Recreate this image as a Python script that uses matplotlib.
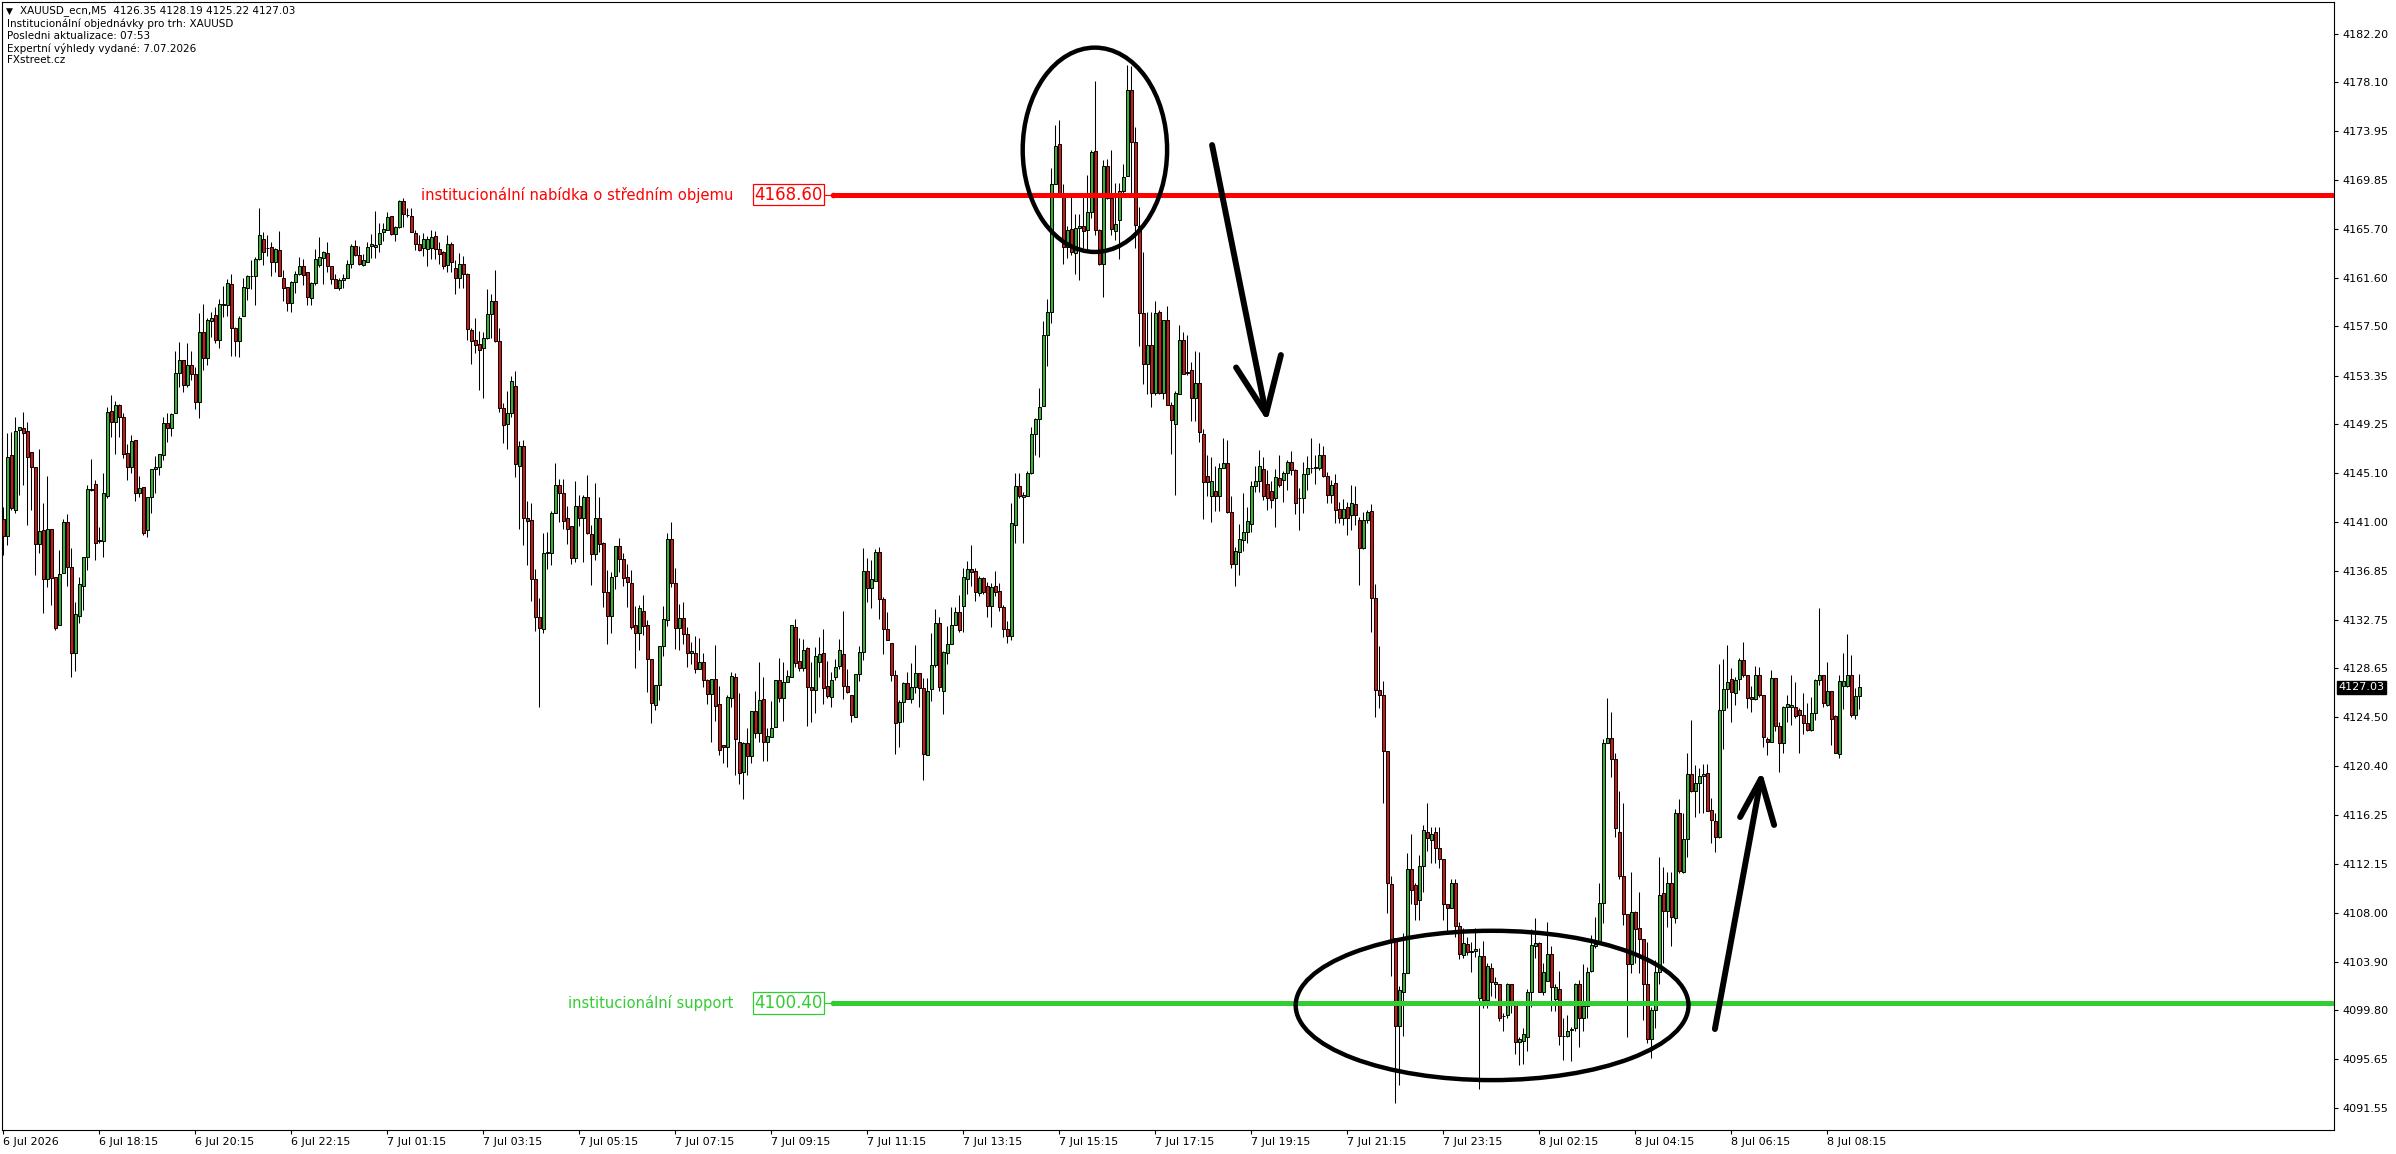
import numpy as np
import matplotlib.pyplot as plt
from matplotlib.patches import Ellipse
import matplotlib.transforms as mtransforms

# [DATA] ======================================================================
# XAUUSD M5 candles (bar 0 = 6 Jul 16:15)
opens = [
    4141.22, 4139.81, 4146.62, 4142.00, 4148.76, 4148.90, 4148.67, 4146.87, 4145.66, 4139.11,
    4140.32, 4136.15, 4140.37, 4136.38, 4132.30, 4136.72, 4140.96, 4137.17, 4129.97, 4133.06,
    4135.62, 4138.01, 4143.69, 4144.17, 4139.40, 4139.42, 4143.21, 4150.36, 4149.43, 4150.84,
    4149.88, 4146.79, 4145.60, 4147.91, 4143.47, 4143.97, 4140.32, 4143.07, 4145.44, 4145.60,
    4146.62, 4149.32, 4148.90, 4150.16, 4153.59, 4154.66, 4152.52, 4154.21, 4153.45, 4151.15,
    4157.00, 4154.86, 4157.98, 4158.43, 4156.35, 4159.39, 4159.30, 4161.05, 4157.33, 4156.29,
    4158.37, 4160.71, 4161.75, 4161.78, 4163.21, 4164.84, 4164.12, 4164.17, 4162.96, 4163.94,
    4161.55, 4160.79, 4159.50, 4161.22, 4161.89, 4162.59, 4162.06, 4159.92, 4161.13, 4162.68,
    4163.24, 4163.65, 4162.63, 4161.51, 4160.70, 4161.38, 4161.54, 4162.80, 4164.26, 4163.51,
    4162.66, 4162.97, 4164.26, 4164.22, 4164.49, 4165.44, 4165.61, 4166.80, 4165.27, 4165.88,
    4168.05, 4166.92, 4166.80, 4165.34, 4164.43, 4164.09, 4164.02, 4164.09, 4165.10, 4164.02,
    4163.75, 4162.66, 4164.43, 4162.46, 4161.54, 4162.73, 4161.88, 4157.21, 4156.36, 4156.02,
    4155.68, 4156.53, 4158.56, 4159.68, 4156.29, 4150.59, 4149.24, 4150.19, 4152.49, 4145.71,
    4147.41, 4141.31, 4141.20, 4136.22, 4132.97, 4131.95, 4138.36, 4138.39, 4141.78, 4144.09,
    4143.41, 4141.37, 4140.63, 4137.98, 4142.32, 4141.31, 4143.14, 4140.02, 4138.32, 4141.37,
    4139.24, 4135.10, 4133.07, 4136.46, 4138.93, 4137.88, 4136.36, 4135.85, 4132.29, 4131.61,
    4133.49, 4132.31, 4129.41, 4125.53, 4127.21, 4130.53, 4132.73, 4139.53, 4135.82, 4132.08,
    4132.87, 4131.52, 4129.91, 4129.91, 4128.62, 4129.15, 4127.64, 4126.45, 4127.72, 4125.61,
    4122.15, 4121.98, 4126.17, 4127.95, 4122.40, 4119.87, 4122.32, 4121.28, 4125.05, 4123.16,
    4126.03, 4122.40, 4122.88, 4123.67, 4127.64, 4126.12, 4127.52, 4127.95, 4132.14, 4129.27,
    4128.65, 4130.34, 4127.05, 4126.82, 4129.15, 4129.91, 4127.13, 4126.20, 4127.89, 4128.85,
    4129.86, 4127.16, 4126.40, 4124.51, 4128.17, 4130.00, 4136.86, 4135.40, 4136.05, 4138.46,
    4134.47, 4131.94, 4130.79, 4128.06, 4124.09, 4125.78, 4127.41, 4126.03, 4127.07, 4128.25,
    4126.96, 4121.31, 4126.88, 4128.90, 4132.45, 4126.74, 4129.91, 4130.67, 4132.28, 4133.37,
    4133.94, 4136.16, 4137.02, 4136.89, 4134.96, 4136.23, 4135.59, 4133.94, 4135.59, 4135.21,
    4133.78, 4132.00, 4131.40, 4140.76, 4144.00, 4143.08, 4143.21, 4145.11, 4148.38, 4149.65,
    4150.76, 4156.73, 4158.70, 4169.49, 4172.89, 4168.54, 4164.16, 4165.69, 4163.69, 4165.84,
    4166.00, 4165.62, 4167.18, 4172.26, 4165.59, 4162.76, 4171.02, 4168.32, 4165.53, 4166.48,
    4168.95, 4170.22, 4177.43, 4173.08, 4166.00, 4158.64, 4154.32, 4155.91, 4151.88, 4158.70,
    4151.88, 4158.00, 4150.86, 4149.24, 4151.78, 4156.32, 4153.60, 4153.78, 4151.46, 4152.73,
    4148.38, 4144.89, 4143.15, 4143.62, 4143.21, 4145.53, 4146.00, 4141.87, 4137.43, 4138.45,
    4139.49, 4140.13, 4140.86, 4144.00, 4144.42, 4145.46, 4144.16, 4143.62, 4142.98, 4144.73,
    4144.55, 4145.10, 4146.02, 4145.36, 4143.00, 4142.98, 4145.03, 4145.54, 4145.60, 4145.54,
    4146.64, 4144.88, 4143.27, 4144.26, 4142.10, 4141.33, 4142.25, 4141.62, 4142.47, 4141.15,
    4138.81, 4141.15, 4141.88, 4134.56, 4126.80, 4126.37, 4121.68, 4110.41, 4105.87, 4098.45,
    4101.37, 4102.95, 4111.73, 4110.34, 4109.06, 4111.99, 4114.80, 4114.18, 4114.80, 4113.45,
    4112.53, 4108.80, 4108.40, 4110.52, 4106.94, 4104.49, 4105.40, 4104.72, 4104.78, 4100.82,
    4104.37, 4100.64, 4103.39, 4101.99, 4102.03, 4099.27, 4099.36, 4101.99, 4100.35, 4097.09,
    4097.24, 4097.53, 4101.30, 4105.22, 4105.51, 4101.37, 4102.29, 4104.56, 4100.75, 4101.56,
    4097.58, 4097.60, 4098.17, 4098.26, 4101.99, 4099.18, 4100.16, 4103.09, 4105.22, 4105.40,
    4108.82, 4122.32, 4122.74, 4120.97, 4114.81, 4111.15, 4107.89, 4103.70, 4108.11, 4106.71,
    4105.81, 4102.01, 4097.34, 4099.82, 4103.05, 4109.66, 4108.20, 4110.50, 4107.55, 4116.41,
    4111.49, 4114.22, 4119.70, 4118.32, 4118.94, 4119.59, 4119.79, 4116.69, 4115.76, 4114.39,
    4125.13, 4126.87, 4127.72, 4126.59, 4127.72, 4129.35, 4128.08, 4126.20, 4126.06, 4128.08,
    4126.40, 4122.66, 4122.46, 4127.80, 4123.78, 4122.32, 4125.36, 4125.36, 4125.41, 4125.13,
    4124.71, 4124.01, 4123.44, 4124.85, 4127.66, 4128.08, 4125.55, 4126.73, 4124.62, 4121.42,
    4127.16, 4127.16, 4128.08, 4124.71, 4126.35,
]
highs = [
    4142.29, 4148.47, 4148.61, 4149.88, 4148.98, 4150.30, 4149.46, 4146.87, 4145.66, 4147.12,
    4142.57, 4144.87, 4140.37, 4136.38, 4138.63, 4141.22, 4141.67, 4138.77, 4134.27, 4136.38,
    4138.01, 4144.11, 4146.28, 4144.54, 4140.60, 4145.10, 4150.72, 4151.71, 4151.20, 4150.95,
    4150.16, 4147.54, 4148.33, 4147.91, 4144.87, 4143.97, 4143.07, 4145.44, 4146.56, 4146.70,
    4149.82, 4150.16, 4150.16, 4155.45, 4156.21, 4154.66, 4156.12, 4155.45, 4154.10, 4158.60,
    4159.36, 4158.18, 4158.68, 4159.16, 4159.78, 4160.91, 4161.52, 4161.89, 4157.47, 4158.37,
    4161.55, 4161.83, 4163.10, 4163.38, 4167.46, 4165.49, 4165.21, 4164.65, 4164.08, 4165.55,
    4162.26, 4160.85, 4161.36, 4162.20, 4163.38, 4163.16, 4162.12, 4161.27, 4164.00, 4165.07,
    4163.82, 4164.60, 4162.63, 4161.88, 4161.58, 4161.88, 4163.14, 4164.49, 4164.77, 4164.26,
    4163.58, 4164.60, 4165.27, 4167.21, 4166.19, 4166.22, 4167.14, 4166.80, 4165.95, 4168.16,
    4168.32, 4167.48, 4167.48, 4165.61, 4165.17, 4165.37, 4165.10, 4165.61, 4165.51, 4164.60,
    4163.82, 4165.17, 4164.60, 4163.07, 4163.65, 4163.41, 4161.99, 4157.37, 4158.22, 4157.14,
    4157.04, 4160.63, 4160.19, 4162.22, 4157.37, 4151.03, 4152.05, 4153.31, 4153.75, 4147.82,
    4147.88, 4142.73, 4142.56, 4137.04, 4134.59, 4140.09, 4140.19, 4141.88, 4145.95, 4144.59,
    4144.59, 4142.32, 4140.63, 4144.43, 4143.31, 4143.24, 4145.00, 4140.70, 4144.26, 4143.07,
    4139.34, 4136.97, 4136.80, 4139.00, 4139.68, 4138.39, 4137.48, 4136.97, 4133.92, 4133.98,
    4134.84, 4132.73, 4129.41, 4127.24, 4130.53, 4133.91, 4140.10, 4140.98, 4137.09, 4134.08,
    4134.25, 4132.11, 4130.87, 4131.38, 4131.21, 4129.94, 4127.75, 4127.72, 4130.62, 4127.16,
    4122.15, 4126.40, 4128.37, 4128.28, 4126.59, 4122.46, 4123.64, 4125.05, 4126.76, 4129.18,
    4127.95, 4123.59, 4125.92, 4127.64, 4129.55, 4129.21, 4128.51, 4132.28, 4132.81, 4131.18,
    4131.10, 4130.48, 4129.21, 4130.42, 4131.32, 4131.97, 4129.27, 4128.37, 4129.44, 4131.12,
    4133.49, 4128.56, 4126.40, 4128.14, 4130.56, 4138.77, 4137.93, 4137.79, 4138.69, 4138.91,
    4134.70, 4133.40, 4130.79, 4128.51, 4125.98, 4127.49, 4128.34, 4129.13, 4130.65, 4128.25,
    4127.83, 4127.83, 4131.63, 4133.66, 4133.01, 4130.14, 4132.25, 4133.85, 4133.85, 4134.84,
    4137.11, 4137.70, 4139.02, 4137.11, 4136.42, 4136.32, 4135.90, 4135.84, 4136.86, 4135.84,
    4134.00, 4132.60, 4142.57, 4145.11, 4145.11, 4143.53, 4145.30, 4149.02, 4149.81, 4152.29,
    4157.99, 4159.78, 4170.83, 4174.51, 4174.89, 4169.49, 4166.00, 4168.38, 4167.02, 4167.02,
    4168.70, 4170.29, 4172.35, 4178.22, 4165.75, 4171.56, 4171.65, 4172.35, 4169.56, 4169.56,
    4171.21, 4179.59, 4179.49, 4174.32, 4167.59, 4163.78, 4158.70, 4158.70, 4159.65, 4158.86,
    4158.07, 4159.18, 4151.08, 4152.04, 4157.59, 4157.02, 4156.80, 4154.51, 4155.46, 4155.37,
    4148.80, 4146.64, 4146.48, 4145.69, 4146.00, 4148.07, 4147.91, 4143.21, 4138.86, 4140.86,
    4143.46, 4142.26, 4144.42, 4145.69, 4147.11, 4146.48, 4145.37, 4144.42, 4145.43, 4146.64,
    4145.28, 4146.20, 4147.00, 4145.47, 4143.82, 4146.02, 4146.56, 4148.10, 4146.64, 4147.66,
    4147.37, 4145.17, 4144.55, 4145.03, 4142.72, 4142.91, 4142.72, 4144.08, 4144.00, 4141.44,
    4141.81, 4141.99, 4142.47, 4135.77, 4130.54, 4127.54, 4121.68, 4111.14, 4105.87, 4101.85,
    4106.31, 4113.08, 4114.66, 4110.52, 4112.90, 4115.39, 4117.29, 4115.28, 4115.28, 4115.28,
    4112.53, 4108.80, 4110.89, 4110.89, 4107.23, 4106.75, 4105.95, 4105.58, 4106.75, 4105.03,
    4105.65, 4103.82, 4103.75, 4102.58, 4102.03, 4099.54, 4102.10, 4101.99, 4100.53, 4097.53,
    4098.26, 4101.56, 4106.61, 4107.60, 4105.58, 4103.75, 4107.23, 4105.22, 4101.99, 4103.09,
    4099.18, 4099.36, 4098.34, 4102.10, 4102.36, 4103.68, 4103.46, 4106.13, 4107.70, 4110.52,
    4122.66, 4126.17, 4124.99, 4121.53, 4118.32, 4117.31, 4107.89, 4111.43, 4108.20, 4109.74,
    4105.81, 4105.58, 4100.10, 4104.03, 4112.75, 4111.91, 4111.49, 4111.49, 4116.75, 4117.59,
    4116.41, 4121.53, 4124.29, 4120.49, 4120.21, 4120.55, 4120.57, 4117.68, 4116.41, 4129.01,
    4129.41, 4130.62, 4128.65, 4127.94, 4129.49, 4130.90, 4128.08, 4127.16, 4128.84, 4128.73,
    4126.40, 4122.88, 4128.51, 4127.80, 4124.15, 4125.47, 4126.40, 4128.08, 4127.52, 4125.27,
    4126.54, 4125.75, 4126.26, 4127.72, 4133.71, 4128.08, 4129.21, 4126.73, 4124.71, 4128.08,
    4129.97, 4131.54, 4129.77, 4126.96, 4128.19,
]
lows = [
    4138.21, 4139.05, 4142.00, 4141.72, 4143.27, 4144.11, 4140.74, 4142.00, 4136.52, 4138.35,
    4133.29, 4135.53, 4133.99, 4131.88, 4132.30, 4136.66, 4135.59, 4127.89, 4128.45, 4132.44,
    4133.57, 4136.94, 4143.60, 4137.78, 4139.19, 4138.07, 4142.99, 4148.19, 4146.73, 4148.19,
    4146.36, 4144.54, 4145.10, 4142.76, 4143.13, 4139.89, 4139.75, 4141.78, 4143.47, 4144.96,
    4146.22, 4147.77, 4148.25, 4150.16, 4152.41, 4151.99, 4152.41, 4152.97, 4150.50, 4149.80,
    4153.82, 4154.24, 4156.63, 4156.12, 4155.70, 4158.32, 4158.37, 4155.00, 4155.00, 4154.94,
    4158.37, 4159.72, 4160.62, 4159.30, 4163.10, 4162.68, 4163.44, 4161.75, 4162.12, 4161.78,
    4159.67, 4158.80, 4158.74, 4160.29, 4161.83, 4160.99, 4159.30, 4159.30, 4160.99, 4162.54,
    4161.04, 4162.12, 4161.10, 4160.70, 4160.53, 4160.70, 4161.54, 4162.39, 4163.41, 4162.66,
    4162.56, 4162.97, 4163.24, 4163.24, 4163.75, 4164.70, 4165.61, 4165.24, 4164.70, 4165.78,
    4165.85, 4166.73, 4165.44, 4163.92, 4163.82, 4163.41, 4162.56, 4163.17, 4163.17, 4162.80,
    4162.32, 4162.05, 4162.05, 4160.26, 4160.76, 4160.70, 4156.36, 4154.32, 4155.27, 4152.15,
    4151.48, 4156.46, 4156.56, 4156.22, 4150.26, 4147.65, 4147.14, 4149.85, 4144.76, 4140.36,
    4139.07, 4137.37, 4134.32, 4131.81, 4125.37, 4131.61, 4137.04, 4137.37, 4141.78, 4140.97,
    4140.36, 4139.17, 4137.48, 4137.58, 4140.63, 4137.65, 4139.95, 4135.68, 4137.81, 4138.49,
    4133.85, 4130.70, 4131.61, 4135.34, 4136.80, 4135.61, 4133.85, 4131.95, 4128.66, 4130.19,
    4131.46, 4126.68, 4124.06, 4125.13, 4125.98, 4129.69, 4132.25, 4135.54, 4130.31, 4130.20,
    4130.70, 4128.79, 4129.01, 4128.23, 4128.62, 4127.05, 4125.61, 4122.46, 4124.23, 4121.34,
    4120.63, 4120.35, 4125.36, 4119.65, 4118.86, 4117.59, 4119.65, 4120.69, 4122.74, 4122.40,
    4120.86, 4120.86, 4122.83, 4123.67, 4125.78, 4124.23, 4127.52, 4127.89, 4128.79, 4128.45,
    4128.42, 4123.81, 4124.15, 4124.85, 4127.95, 4125.61, 4126.12, 4125.41, 4127.66, 4128.56,
    4126.03, 4126.54, 4124.09, 4124.51, 4127.61, 4129.35, 4134.27, 4133.71, 4136.05, 4132.78,
    4129.83, 4131.01, 4127.58, 4121.39, 4121.98, 4124.12, 4126.03, 4125.75, 4126.59, 4125.41,
    4119.23, 4121.31, 4125.92, 4128.79, 4126.74, 4124.77, 4128.99, 4130.67, 4132.28, 4131.74,
    4131.70, 4134.89, 4135.59, 4134.32, 4134.73, 4134.89, 4133.00, 4132.10, 4134.73, 4133.46,
    4131.30, 4130.80, 4131.00, 4139.18, 4142.98, 4139.18, 4143.15, 4145.05, 4146.64, 4146.48,
    4150.76, 4154.19, 4157.75, 4169.49, 4168.38, 4162.73, 4163.30, 4163.53, 4161.94, 4161.40,
    4164.10, 4163.94, 4166.64, 4165.21, 4162.70, 4159.97, 4168.22, 4165.21, 4164.80, 4163.21,
    4168.54, 4170.22, 4168.38, 4164.10, 4155.84, 4152.61, 4151.78, 4150.70, 4151.72, 4151.78,
    4151.40, 4150.86, 4146.70, 4143.24, 4151.78, 4153.46, 4153.40, 4149.49, 4149.49, 4147.75,
    4141.24, 4143.15, 4140.99, 4141.94, 4141.94, 4145.53, 4141.72, 4137.11, 4135.59, 4136.54,
    4138.54, 4139.18, 4140.13, 4143.53, 4143.53, 4142.89, 4142.04, 4142.19, 4140.54, 4143.94,
    4142.72, 4143.71, 4144.92, 4141.70, 4140.34, 4141.73, 4143.71, 4145.10, 4144.19, 4145.39,
    4144.81, 4142.61, 4142.61, 4140.89, 4140.89, 4140.78, 4139.87, 4140.34, 4140.78, 4135.66,
    4138.70, 4140.89, 4131.74, 4124.54, 4125.34, 4117.29, 4107.96, 4102.65, 4091.97, 4093.50,
    4097.60, 4102.95, 4108.80, 4107.41, 4107.41, 4109.79, 4113.27, 4112.24, 4112.24, 4111.80,
    4107.41, 4106.31, 4108.40, 4105.95, 4104.12, 4104.19, 4104.49, 4103.02, 4104.30, 4093.14,
    4100.02, 4100.02, 4101.01, 4100.82, 4098.92, 4098.08, 4099.18, 4099.54, 4096.07, 4095.15,
    4095.26, 4096.36, 4100.09, 4104.19, 4101.37, 4101.12, 4102.29, 4099.73, 4099.73, 4096.87,
    4095.63, 4097.53, 4095.52, 4098.08, 4096.73, 4098.08, 4099.18, 4103.02, 4105.03, 4105.40,
    4107.18, 4122.32, 4119.45, 4114.44, 4110.84, 4106.99, 4097.51, 4102.91, 4103.75, 4102.91,
    4098.97, 4097.00, 4095.74, 4098.27, 4102.01, 4103.81, 4106.85, 4105.22, 4107.13, 4111.35,
    4111.40, 4112.75, 4118.24, 4116.13, 4116.41, 4116.41, 4116.64, 4113.88, 4113.18, 4114.30,
    4121.84, 4125.27, 4124.15, 4125.55, 4126.82, 4127.94, 4125.27, 4124.99, 4125.97, 4126.20,
    4122.04, 4121.33, 4122.46, 4123.39, 4119.93, 4121.47, 4124.15, 4123.86, 4124.43, 4121.47,
    4123.11, 4123.39, 4123.39, 4124.29, 4127.24, 4125.36, 4125.47, 4122.18, 4121.47, 4121.05,
    4125.19, 4127.10, 4124.51, 4124.34, 4125.22,
]
closes = [
    4139.81, 4146.50, 4142.15, 4148.67, 4148.98, 4148.47, 4146.50, 4145.60, 4139.11, 4140.23,
    4136.15, 4140.37, 4136.24, 4132.08, 4136.58, 4140.96, 4137.22, 4129.97, 4133.20, 4135.73,
    4138.01, 4143.75, 4143.75, 4139.19, 4139.45, 4143.47, 4150.25, 4149.43, 4150.84, 4149.82,
    4146.73, 4145.60, 4147.83, 4143.47, 4143.83, 4140.09, 4143.07, 4145.44, 4145.60, 4146.70,
    4149.32, 4148.90, 4150.08, 4153.54, 4154.66, 4152.52, 4154.21, 4153.45, 4151.15, 4157.00,
    4154.86, 4158.01, 4158.18, 4156.35, 4159.39, 4159.30, 4161.13, 4157.33, 4156.29, 4158.18,
    4160.79, 4161.75, 4161.78, 4163.21, 4165.21, 4163.80, 4164.14, 4162.96, 4164.00, 4161.78,
    4160.77, 4159.50, 4161.22, 4161.89, 4162.59, 4161.83, 4160.01, 4161.13, 4163.16, 4163.32,
    4163.75, 4162.56, 4161.51, 4160.70, 4161.38, 4161.61, 4162.80, 4164.26, 4163.51, 4162.80,
    4163.07, 4164.16, 4164.49, 4164.36, 4165.34, 4165.71, 4166.70, 4165.27, 4165.88, 4168.05,
    4166.97, 4166.88, 4165.44, 4164.43, 4163.92, 4164.83, 4164.83, 4165.00, 4164.02, 4163.58,
    4162.56, 4164.43, 4162.90, 4161.54, 4162.73, 4161.88, 4157.31, 4156.29, 4155.95, 4155.54,
    4156.53, 4158.56, 4159.68, 4156.29, 4150.59, 4149.17, 4150.19, 4152.90, 4145.85, 4147.41,
    4141.31, 4141.10, 4136.22, 4132.97, 4132.05, 4138.39, 4138.42, 4141.78, 4144.09, 4143.41,
    4141.10, 4140.36, 4137.92, 4142.32, 4141.31, 4143.14, 4140.09, 4138.32, 4141.37, 4139.17,
    4135.10, 4133.07, 4136.36, 4138.93, 4137.88, 4136.29, 4135.95, 4132.15, 4131.61, 4133.75,
    4132.25, 4129.41, 4125.70, 4127.24, 4130.53, 4132.78, 4139.53, 4135.82, 4132.02, 4132.87,
    4131.52, 4129.91, 4130.08, 4128.62, 4129.15, 4127.64, 4126.45, 4127.72, 4125.50, 4121.76,
    4121.98, 4126.23, 4128.00, 4122.66, 4119.79, 4122.32, 4121.28, 4125.05, 4123.16, 4125.98,
    4122.40, 4122.94, 4123.59, 4127.64, 4126.12, 4127.49, 4127.97, 4132.28, 4129.07, 4128.65,
    4130.17, 4127.05, 4126.82, 4129.69, 4129.86, 4126.96, 4126.31, 4127.64, 4128.73, 4130.17,
    4127.16, 4126.62, 4124.68, 4128.14, 4130.03, 4136.86, 4135.40, 4136.16, 4138.46, 4134.47,
    4131.94, 4131.01, 4128.06, 4124.01, 4125.78, 4127.41, 4126.03, 4127.07, 4128.25, 4126.96,
    4121.39, 4126.74, 4128.90, 4132.45, 4127.05, 4130.03, 4130.70, 4132.28, 4133.37, 4131.88,
    4136.32, 4137.05, 4136.80, 4135.05, 4136.23, 4135.05, 4133.94, 4135.53, 4135.05, 4133.78,
    4132.00, 4131.40, 4140.92, 4144.00, 4143.15, 4143.24, 4145.11, 4148.38, 4149.65, 4150.70,
    4156.73, 4158.70, 4169.49, 4172.76, 4168.54, 4164.16, 4165.59, 4163.78, 4165.84, 4166.00,
    4165.53, 4167.18, 4172.19, 4165.62, 4162.76, 4171.02, 4168.32, 4165.69, 4166.16, 4168.95,
    4170.07, 4177.43, 4173.08, 4166.07, 4158.64, 4154.32, 4155.91, 4151.88, 4158.64, 4151.88,
    4158.07, 4150.86, 4149.56, 4151.88, 4156.32, 4153.46, 4153.64, 4151.46, 4152.76, 4148.61,
    4144.35, 4144.35, 4144.42, 4143.15, 4145.53, 4146.00, 4141.87, 4137.43, 4138.54, 4139.56,
    4140.13, 4141.08, 4144.00, 4144.42, 4145.69, 4143.15, 4142.98, 4142.83, 4144.80, 4144.10,
    4145.10, 4146.02, 4145.39, 4142.61, 4143.04, 4145.03, 4145.54, 4145.58, 4145.56, 4146.64,
    4144.88, 4143.27, 4144.08, 4141.99, 4141.33, 4142.10, 4141.33, 4142.61, 4141.62, 4138.81,
    4141.15, 4141.81, 4134.56, 4126.80, 4126.37, 4121.68, 4110.52, 4105.58, 4098.45, 4101.48,
    4102.95, 4111.73, 4109.90, 4108.80, 4111.99, 4115.02, 4114.29, 4114.66, 4113.45, 4112.53,
    4108.76, 4108.40, 4110.52, 4106.94, 4104.56, 4105.47, 4104.74, 4104.76, 4104.96, 4104.37,
    4100.64, 4103.50, 4102.21, 4102.21, 4099.10, 4099.31, 4101.99, 4100.27, 4097.09, 4097.35,
    4097.82, 4101.37, 4105.29, 4105.51, 4101.37, 4103.02, 4104.56, 4101.74, 4101.74, 4097.60,
    4097.62, 4098.08, 4098.21, 4101.99, 4099.18, 4100.16, 4103.02, 4105.29, 4105.40, 4108.87,
    4122.32, 4122.74, 4120.97, 4115.15, 4111.15, 4107.89, 4103.70, 4108.11, 4106.65, 4105.81,
    4102.01, 4097.34, 4099.82, 4103.05, 4109.52, 4108.20, 4110.50, 4107.64, 4116.41, 4111.54,
    4114.22, 4119.70, 4118.32, 4118.94, 4119.56, 4119.70, 4116.64, 4115.85, 4114.39, 4125.13,
    4126.87, 4127.52, 4126.68, 4127.66, 4129.35, 4128.08, 4126.11, 4126.06, 4128.08, 4126.40,
    4122.82, 4122.46, 4127.80, 4123.78, 4122.37, 4125.36, 4125.61, 4125.55, 4124.62, 4124.71,
    4124.01, 4123.44, 4124.85, 4127.66, 4128.08, 4125.69, 4126.73, 4124.34, 4121.47, 4127.58,
    4127.58, 4128.08, 4124.71, 4126.31, 4127.03,
]

time_labels = ['6 Jul 2026', '6 Jul 18:15', '6 Jul 20:15', '6 Jul 22:15', '7 Jul 01:15',
               '7 Jul 03:15', '7 Jul 05:15', '7 Jul 07:15', '7 Jul 09:15', '7 Jul 11:15',
               '7 Jul 13:15', '7 Jul 15:15', '7 Jul 17:15', '7 Jul 19:15', '7 Jul 21:15',
               '7 Jul 23:15', '8 Jul 02:15', '8 Jul 04:15', '8 Jul 06:15', '8 Jul 08:15']
bars_per_label = 24

price_ticks = ['4182.20', '4178.10', '4173.95', '4169.85', '4165.70', '4161.60', '4157.50',
               '4153.35', '4149.25', '4145.10', '4141.00', '4136.85', '4132.75', '4128.65',
               '4124.50', '4120.40', '4116.25', '4112.15', '4108.00', '4103.90', '4099.80',
               '4095.65', '4091.55']

supply_level = 4168.60
support_level = 4100.40
last_price = 4127.03

header = ['XAUUSD_ecn,M5  4126.35 4128.19 4125.22 4127.03',
          'Institucionální objednávky pro trh: XAUUSD',
          'Posledni aktualizace: 07:53',
          'Expertní výhledy vydané: 7.07.2026',
          'FXstreet.cz']
# [END DATA] ==================================================================


# [PLOTTING] ==================================================================
W, H = 2396, 1154
fig = plt.figure(figsize=(W / 100, H / 100), dpi=100)
ax = fig.add_axes([2 / W, 1 - 1130 / H, (2334 - 2) / W, (1130 - 2) / H])

o = np.array(opens)
h = np.array(highs)
l = np.array(lows)
c = np.array(closes)
x = np.arange(len(o))
up = c >= o

bull = '#32b432'
bear = '#d21414'

ax.vlines(x, l, h, color='black', linewidth=0.75, zorder=2)
body_lo = np.minimum(o, c)
body_h = np.maximum(np.abs(c - o), 0.03)
ax.bar(x, body_h, bottom=body_lo, width=0.62,
       color=np.where(up, bull, bear), edgecolor='black', linewidth=0.7, zorder=3)

ax.set_xlim(-0.325, 582.675)
ax.set_ylim(4089.69, 4184.87)

# level lines with their labels
red = '#ff0000'
green = '#32cd32'
x_end = 582.675
for level, col, label in [(supply_level, red, 'institucionální nabídka o středním objemu'),
                          (support_level, green, 'institucionální support')]:
    ax.plot([207.4, x_end], [level, level], color=col, linewidth=3.6,
            solid_capstyle='butt', zorder=4)
    ax.plot([205.4, 207.4], [level, level], color=col, linewidth=0.8, zorder=4)
    ax.plot([207.4], [level], 'o', color=col, markersize=3, zorder=4)
    ax.text(196.3, level, f'{level:.2f}', color=col, fontsize=12,
            ha='center', va='center', zorder=5,
            bbox=dict(boxstyle='square,pad=0.1', fc='white', ec=col, lw=0.9))
    ax.text(182.4, level, label, color=col, fontsize=10.6, ha='right', va='center', zorder=5)

# hand-drawn ellipses
ax.add_patch(Ellipse((272.9, 4172.4), 36.1, 17.24, fill=False, ec='black', lw=3.2, zorder=6))
ax.add_patch(Ellipse((372.2, 4100.2), 98.2, 12.6, fill=False, ec='black', lw=3.2, zorder=6))

# hand-drawn arrows
arrow_kw = dict(color='black', linewidth=4.3, solid_capstyle='round', zorder=6)
ax.plot([302.2, 315.7], [4172.8, 4150.1], **arrow_kw)
ax.plot([308.2, 315.7, 319.4], [4154.03, 4150.1, 4155.08], solid_joinstyle='round', **arrow_kw)
ax.plot([427.9, 439.4], [4098.21, 4119.31], **arrow_kw)
ax.plot([434.2, 439.4, 442.7], [4116.1, 4119.31, 4115.43], solid_joinstyle='round', **arrow_kw)

# axes styling
for s in ax.spines.values():
    s.set_linewidth(0.8)
    s.set_color('black')
ax.yaxis.tick_right()
ax.set_yticks([float(v) for v in price_ticks], price_ticks)
ax.tick_params(axis='y', which='both', length=3, width=0.8, pad=3, labelsize=8, colors='black')
ax.set_xticks(np.arange(len(time_labels)) * bars_per_label, time_labels)
ax.tick_params(axis='x', length=3, width=0.8, pad=2, labelsize=8)
for lab in ax.get_xticklabels():
    lab.set_ha('left')

# last price tag
trans = mtransforms.blended_transform_factory(ax.transAxes, ax.transData)
ax.text(1.0018, last_price, f'{last_price:.2f}', transform=trans, color='white', fontsize=8,
        ha='left', va='center', bbox=dict(boxstyle='square,pad=0.12', fc='black', ec='black'))

# header text
fig.text(6 / W, 1 - 11 / H, '▼', fontsize=6.5, va='center', ha='left')
fig.text(20 / W, 1 - 11 / H, header[0], fontsize=7.5, va='center', ha='left')
for i, line in enumerate(header[1:]):
    fig.text(7 / W, 1 - (23.5 + 12.3 * i) / H, line, fontsize=7.5, va='center', ha='left')

fig.savefig('out.png', dpi=100, facecolor='white')
# [END PLOTTING] ==============================================================
